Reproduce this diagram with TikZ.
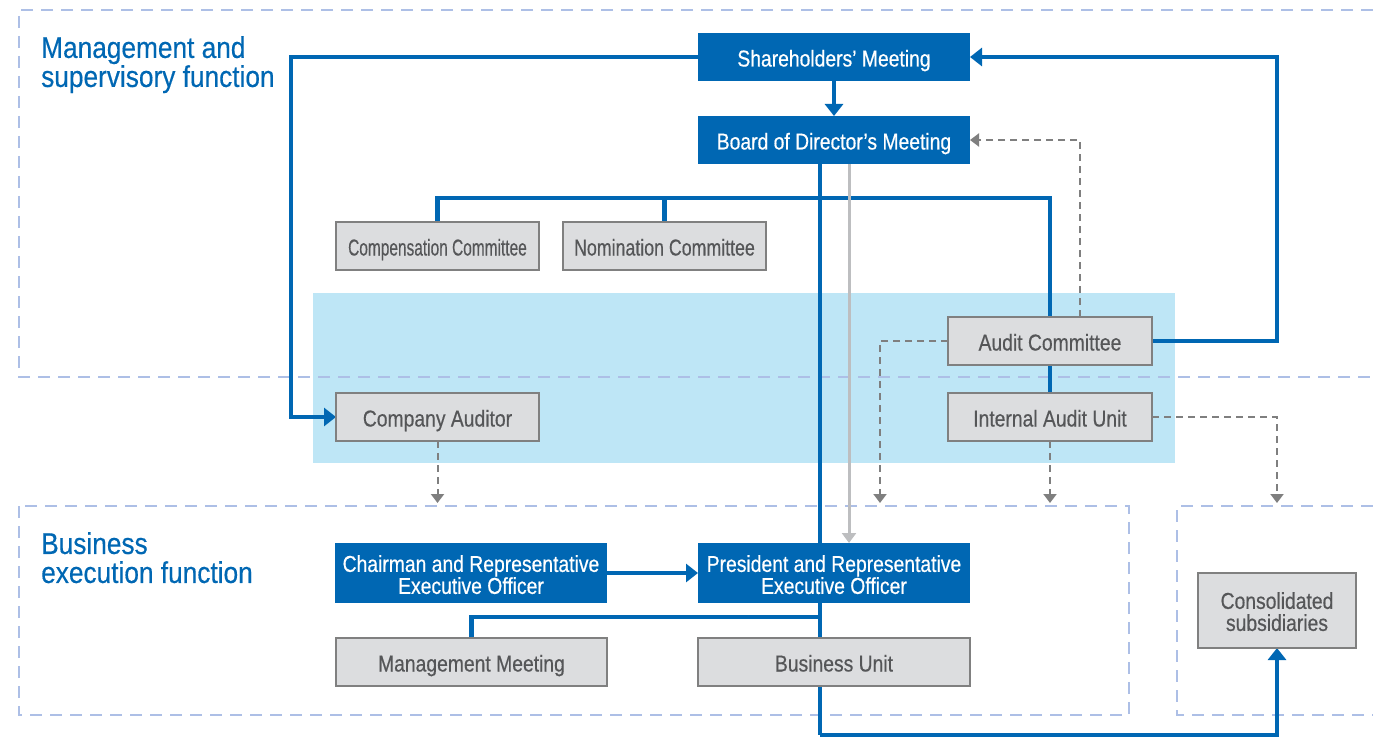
\documentclass[tikz,border=0pt]{standalone}
\usepackage{fontspec}
\setmainfont{Liberation Sans}[FakeStretch=0.84,FakeBold=0.5]
\newfontfamily\headfont{Liberation Sans}[FakeStretch=0.875,FakeBold=0.4]
\usetikzlibrary{arrows.meta,calc}
\definecolor{cblue}{HTML}{0067B3}
\definecolor{cband}{HTML}{BEE6F6}
\definecolor{cregion}{HTML}{ADBFE6}
\definecolor{cgrayfill}{HTML}{DCDDDF}
\definecolor{cgraydraw}{HTML}{808080}
\definecolor{cgraytext}{HTML}{555658}
\definecolor{cdash}{HTML}{7F7F7F}
\definecolor{clight}{HTML}{BDBEC0}
\pgfdeclarelayer{back}
\pgfdeclarelayer{conn}
\pgfsetlayers{back,conn,main}
\tikzset{
  boxtext/.style={font=\fontsize{23}{22}\selectfont, align=center, inner sep=0pt, outer sep=0pt},
  oneline/.style={text height=19pt, text depth=0pt},
  bluebox/.style={boxtext, fill=cblue, text=white, minimum width=272pt, minimum height=48pt},
  graybox/.style={boxtext, fill=cgrayfill, draw=cgraydraw, line width=1.3pt, text=cgraytext, minimum height=48pt},
  heading/.style={font=\headfont\fontsize{30}{29}\selectfont, text=cblue, align=left, inner sep=0pt, anchor=north west},
  blueline/.style={draw=cblue, line width=4.5pt},
  bluearrow/.style={blueline, -{Triangle[width=18pt,length=12pt]}},
  lightline/.style={draw=clight, line width=3pt, -{Triangle[width=14pt,length=10pt]}},
  dashline/.style={draw=cdash, line width=2pt, dash pattern=on 7pt off 5pt, -{Triangle[width=13pt,length=9pt]}},
  regionline/.style={draw=cregion, line width=2pt, dash pattern=on 12pt off 8pt}
}
\begin{document}
\begin{tikzpicture}[x=1pt,y=-1pt]
\useasboundingbox (0,0) rectangle (1373,738);

% background band and regions
\begin{pgfonlayer}{back}
  \fill[cband] (313,293) rectangle (1175,463);
  \draw[regionline] (1373,10) -- (19,10) -- (19,377) -- (1373,377);
  \draw[regionline] (19,506) rectangle (1129,715);
  \draw[regionline] (1373,506) -- (1177,506) -- (1177,715) -- (1373,715);
\end{pgfonlayer}

% headings
\node[heading] (h1) at (41,36) {Management and\\supervisory function};
\node[heading] (h2) at (41,532) {Business\\execution function};

% nodes
\node[bluebox, oneline] (sh) at (834,57) {Shareholders’ Meeting};
\node[bluebox, oneline] (bd) at (834,140) {Board of Director’s Meeting};
\node[graybox, oneline, minimum width=203pt] (comp) at (437.5,246) {\scalebox{0.8}[1]{Compensation Committee}};
\node[graybox, oneline, minimum width=203pt] (nom) at (664.5,246) {\scalebox{0.92}[1]{Nomination Committee}};
\node[graybox, oneline, minimum width=204pt] (ac) at (1050,341) {Audit Committee};
\node[graybox, oneline, minimum width=204pt] (iau) at (1050,417) {Internal Audit Unit};
\node[graybox, oneline, minimum width=203pt] (ca) at (437.5,417) {Company Auditor};
\node[bluebox, minimum height=60pt] (ch) at (471,573) {\rule{0pt}{20pt}Chairman and Representative\\Executive Officer};
\node[bluebox, minimum height=60pt] (pr) at (834,573) {\rule{0pt}{20pt}President and Representative\\Executive Officer};
\node[graybox, oneline, minimum width=271pt] (mm) at (471.5,662) {Management Meeting};
\node[graybox, oneline, minimum width=272pt] (bu) at (834,662) {Business Unit};
\node[graybox, minimum width=158pt, minimum height=75pt] (cs) at (1277,610.5) {\rule{0pt}{19pt}Consolidated\\subsidiaries};

% helper coordinates
\coordinate (bdv) at ($(bd.south)+(-14,0)$);
\coordinate (bdl) at ($(bd.south)+(15,0)$);
\coordinate (bot) at (820,735);
\coordinate (mmj) at (820,617);
\coordinate (acd) at (880,503);
\coordinate (sub) at (1277,503);

\begin{pgfonlayer}{conn}
  % blue connectors
  \draw[bluearrow] (sh.west) -| ($(ca.west)+(-45,0)$) -- (ca.west);
  \draw[bluearrow] (sh.south) -- (bd.north);
  \draw[bluearrow] (ac.east) -| (cs.north |- sh.east) -- (sh.east);
  \draw[blueline] (bdv) -- (bot);
  \draw[bluearrow] (bot) -| (cs.south);
  \draw[blueline] (comp.north) -- ++(0,-24) -| (ac.north);
  \draw[blueline] (nom.north) -- ++(0,-24);
  \draw[blueline] (ac.south) -- (iau.north);
  \draw[blueline] (mm.north) |- (mmj);
  \draw[bluearrow] (ch.east) -- (pr.west);
  % light gray
  \draw[lightline] (bdl) -- (bdl |- pr.north);
  % dashed
  \draw[dashline] ($(ac.north)+(30,0)$) |- (bd.east);
  \draw[dashline] (ac.west) -| (acd);
  \draw[dashline] (iau.south) -- (iau.south |- acd);
  \draw[dashline] (iau.east) -| (sub);
  \draw[dashline] (ca.south) -- (ca.south |- acd);
\end{pgfonlayer}
\end{tikzpicture}
\end{document}
